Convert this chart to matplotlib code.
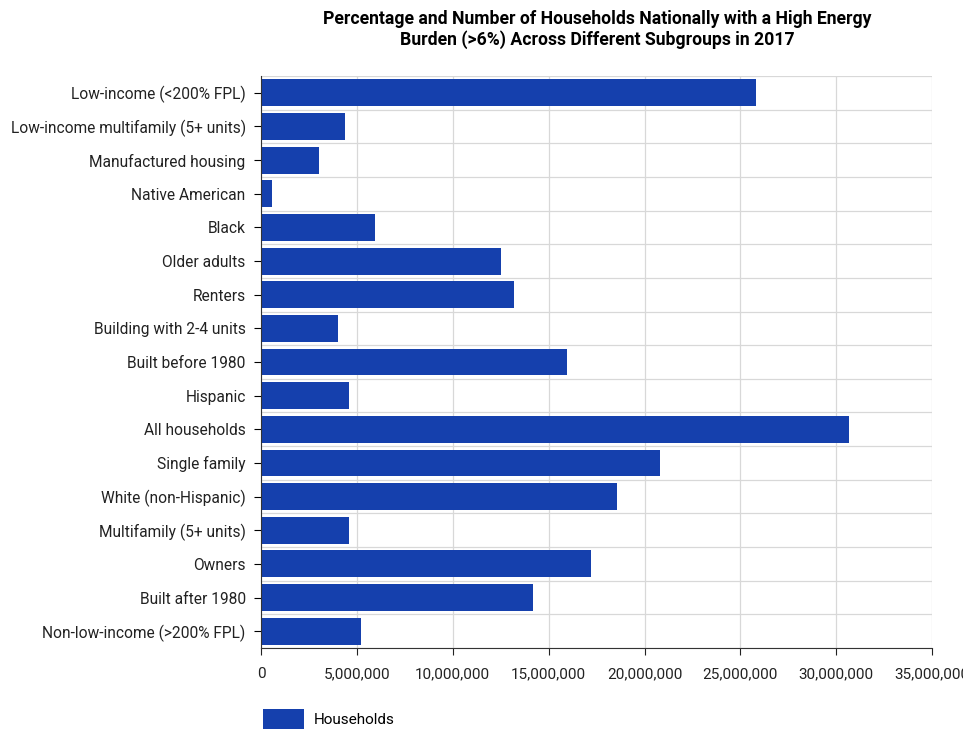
import matplotlib
matplotlib.use("Agg")
import matplotlib.pyplot as plt
from matplotlib.ticker import FuncFormatter
import numpy as np

categories = [
    "Low-income (<200% FPL)",
    "Low-income multifamily (5+ units)",
    "Manufactured housing",
    "Native American",
    "Black",
    "Older adults",
    "Renters",
    "Building with 2-4 units",
    "Built before 1980",
    "Hispanic",
    "All households",
    "Single family",
    "White (non-Hispanic)",
    "Multifamily (5+ units)",
    "Owners",
    "Built after 1980",
    "Non-low-income (>200% FPL)",
]
households = [25800000, 4400000, 3000000, 550000, 5950000, 12500000, 13200000,
              4000000, 15950000, 4600000, 30650000, 20800000, 18550000,
              4600000, 17200000, 14200000, 5200000]
xticks = [0, 5000000, 10000000, 15000000, 20000000, 25000000, 30000000, 35000000]

plt.rcParams['font.family'] = ['Roboto', 'DejaVu Sans']
color = "#1540AD"

fig = plt.figure(figsize=(9.63, 7.31), dpi=100)
ax = fig.add_axes([0.271, 0.1135, 0.697, 0.7825])

y = np.arange(len(categories))
ax.barh(y, households, height=0.8, color=color, label="Households", zorder=3)
ax.set_yticks(y)
ax.set_yticklabels(categories, fontsize=11.2, color="#222222")
ax.set_ylim(len(categories) - 0.5, -0.5)
ax.set_xlim(0, 35000000)
ax.set_xticks(xticks)
ax.xaxis.set_major_formatter(FuncFormatter(lambda v, p: f"{int(v):,}"))
ax.tick_params(axis='x', labelsize=11, colors="#222222", length=5, pad=9)
ax.tick_params(axis='y', length=5, pad=6)
ax.set_yticks(np.arange(-0.5, len(categories), 1), minor=True)
ax.tick_params(axis='y', which='minor', length=0)
ax.grid(axis='x', which='major', color="#d8d8d8", linewidth=0.9, zorder=0)
ax.grid(axis='y', which='minor', color="#d8d8d8", linewidth=0.9, zorder=0)
for s in ['top', 'right']:
    ax.spines[s].set_visible(False)
ax.spines['left'].set_color("#333333")
ax.spines['bottom'].set_color("#333333")
ax.spines['left'].set_zorder(4)

fig.text(0.62, 0.987, "Percentage and Number of Households Nationally with a High Energy\nBurden (>6%) Across Different Subgroups in 2017",
         ha='center', va='top', fontsize=12.7, fontweight='bold', linespacing=1.2)

fig.legend(loc='lower left', bbox_to_anchor=(0.262, -0.012), frameon=False, fontsize=11,
           handlelength=2.7, handleheight=1.6, handletextpad=0.6, borderaxespad=0.3)

fig.savefig("out.png", dpi=100)
